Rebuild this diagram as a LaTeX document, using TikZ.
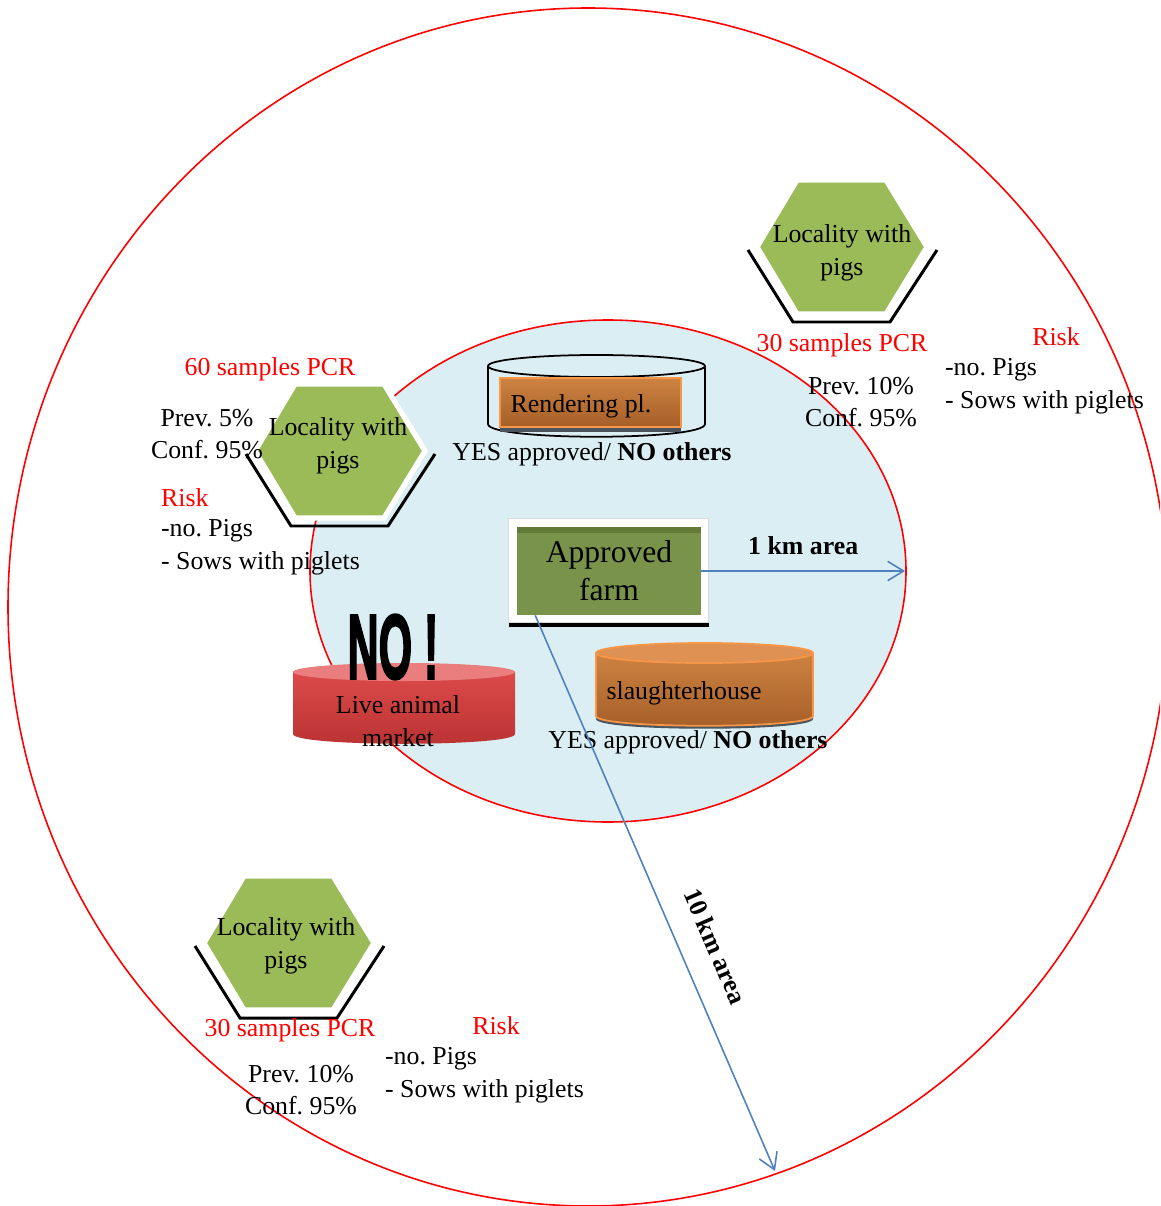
\documentclass[tikz,border=0pt]{standalone}
\usepackage{fontspec}
\usepackage{graphicx}
\setmainfont{Liberation Serif}
\newfontfamily\nofont[BoldFeatures={FakeBold=3}]{Liberation Sans}
\usetikzlibrary{arrows.meta}
\frenchspacing

\definecolor{zonered}{RGB}{255,0,0}
\definecolor{zoneblue}{RGB}{218,238,243}
\definecolor{hexgreen}{RGB}{155,187,89}
\definecolor{farmgreen}{RGB}{121,148,74}
\definecolor{farmdark}{RGB}{100,122,55}
\definecolor{boxorange}{RGB}{247,150,70}
\definecolor{orangetop}{RGB}{205,130,65}
\definecolor{orangebot}{RGB}{165,95,40}
\definecolor{orangelid}{RGB}{222,145,82}
\definecolor{markettop}{RGB}{220,74,74}
\definecolor{marketbot}{RGB}{186,50,50}
\definecolor{marketlid}{RGB}{234,125,125}
\definecolor{kmblue}{RGB}{79,129,189}
\definecolor{shadowgrey}{RGB}{75,85,95}

\begin{document}
\begin{tikzpicture}[x=0.02cm,y=-0.02cm]
    \tikzset{every node/.style={font=\fontsize{14.7}{18.6}\selectfont, inner sep=1pt},
    txt/.style={align=center},
    redtxt/.style={text=zonered},
    listtxt/.style={anchor=west, align=left},
    hexfill/.style={fill=hexgreen, draw=white, line width=3pt, line join=miter},
    hexshadow/.style={draw=black, line width=1.7pt},
    orangebody/.style={top color=orangetop, bottom color=orangebot},
    kmarrow/.style={draw=kmblue, line width=0.9pt, -{Straight Barb[length=9pt,width=11pt]}},
    kmlabel/.style={font=\fontsize{14.7}{18}\selectfont\bfseries}}
    \clip (0,0) rectangle (1160,1206);
    % zones
    \draw[zonered, line width=0.9pt] (588,607) ellipse [x radius=580, y radius=599];
    \filldraw[fill=zoneblue, draw=zonered, line width=0.9pt] (608,571) ellipse [x radius=298, y radius=251];
    % localities
    \foreach \cx/\cy/\tx/\ty/\nm in {842/247/842/253/hexA, 340/451/338/446/hexB, 289/943/286/946/hexC}{
        \draw[hexshadow] (\cx-94,\cy+3) -- (\cx-49,\cy+75) -- (\cx+48,\cy+75) -- (\cx+95,\cy+3);
        \filldraw[hexfill] (\cx-85,\cy) -- (\cx-45,\cy-67) -- (\cx+44,\cy-67) -- (\cx+85,\cy)
            -- (\cx+44,\cy+67) -- (\cx-45,\cy+67) -- cycle;
        \node[txt] (\nm) at (\tx,\ty) {Locality with\\pigs};
    }
    % rendering plant
    \draw[line width=1pt] (488,366) -- (488,424) .. controls (488,441) and (705,441) .. (705,424) -- (705,366);
    \draw[line width=1pt] (596.5,366) ellipse [x radius=108.5, y radius=11];
    \fill[shadowgrey] (500,426) rectangle (681,432);
    \node[draw=boxorange, line width=1.2pt, orangebody, minimum width=3.62cm, minimum height=0.98cm] (render) at (590.5,402.5) {};
    \node (renderlbl) at (581,406) {Rendering pl.};
    \node (renderyes) at (592,454) {YES approved/ \textbf{NO others}};
    % approved farm
    \fill[black] (509,619) rectangle (709,627);
    \filldraw[fill=white, draw=black!15] (508,518) rectangle (708,622);
    \node[fill=farmgreen, minimum width=3.68cm, minimum height=1.76cm, align=center,
        font=\fontsize{18}{21.5}\selectfont,
        path picture={\fill[farmdark] (path picture bounding box.north west) rectangle ([yshift=-3.4pt]path picture bounding box.north east);}]
        (farm) at (609,571) {Approved\\farm};
    % slaughterhouse
    \fill[shadowgrey, yshift=-1.7pt] (596,653) -- (596,716) .. controls (596,729) and (813,729) .. (813,716) -- (813,653) -- cycle;
    \filldraw[orangebody, draw=boxorange, line width=1pt] (596,653) -- (596,716) .. controls (596,729) and (813,729) .. (813,716) -- (813,653) -- cycle;
    \filldraw[fill=orangelid, draw=boxorange, line width=1pt] (704.5,653) ellipse [x radius=108.5, y radius=10];
    \node (slaughter) at (684,693) {slaughterhouse};
    \node (slaughteryes) at (688,742) {YES approved/ \textbf{NO others}};
    % live animal market
    \shade[top color=markettop, bottom color=marketbot] (293,672) -- (293,734) .. controls (293,747) and (515,747) .. (515,734) -- (515,672) -- cycle;
    \fill[marketlid] (404,672) ellipse [x radius=111, y radius=9];
    \node (nosign) at (393,647) {\scalebox{0.47}[1]{\nofont\bfseries\fontsize{52}{52}\selectfont NO !}};
    \node[txt] (market) at (398,721) {Live animal\\market};
    % sampling and risk notes
    \node[redtxt] (pcrA) at (842,345) {30 samples PCR};
    \node[txt] (prevA) at (861,402) {Prev. 10\%\\Conf. 95\%};
    \node[redtxt] (riskA) at (1056,337) {Risk};
    \node[listtxt] (factA) at (943,386) {-no. Pigs\\- Sows with piglets};
    \node[redtxt] (pcrB) at (270,369) {60 samples PCR};
    \node[txt] (prevB) at (207,434) {Prev. 5\%\\Conf. 95\%};
    \node[redtxt, anchor=west] (riskB) at (159,498) {Risk};
    \node[listtxt] (factB) at (159,547) {-no. Pigs\\- Sows with piglets};
    \node[redtxt] (pcrC) at (290,1030) {30 samples PCR};
    \node[txt] (prevC) at (301,1090) {Prev. 10\%\\Conf. 95\%};
    \node[redtxt] (riskC) at (496,1026) {Risk};
    \node[listtxt] (factC) at (383,1075) {-no. Pigs\\- Sows with piglets};
    % distances
    \coordinate (onekm) at (905,571);
    \coordinate (tenkm) at (775,1171);
    \draw[kmarrow] (farm.east) -- node[kmlabel, above=8pt] (onekmlbl) {1 km area} (onekm);
    \draw[kmarrow] (farm.211) -- node[kmlabel, sloped, pos=0.62, above=13pt] (tenkmlbl) {10 km area} (tenkm);
\end{tikzpicture}
\end{document}
